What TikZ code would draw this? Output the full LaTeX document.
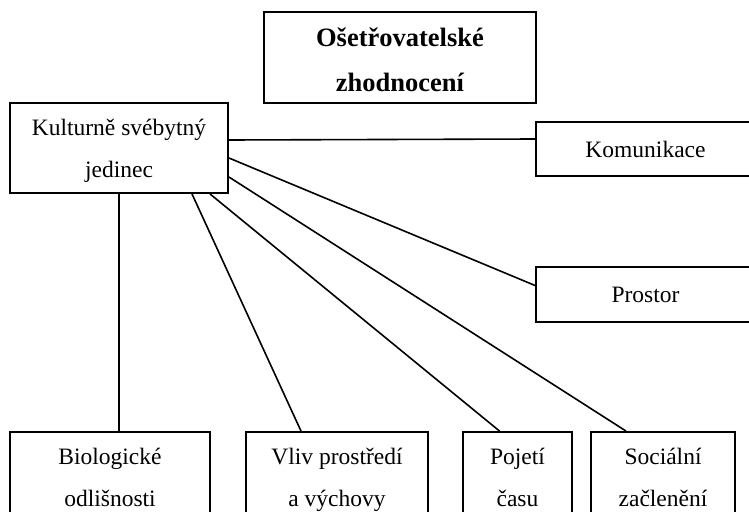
\documentclass[tikz,border=0pt]{standalone}
\usepackage{fontspec}
\setmainfont{Liberation Serif}
\usetikzlibrary{positioning}

\tikzset{
  ramec/.style={draw, rectangle, line width=1.9pt, align=center, inner sep=0pt,
    font=\fontsize{23.5}{42}\selectfont},
  nadpis/.style={ramec, font=\fontsize{26.5}{45}\selectfont\bfseries},
  spoj/.style={line width=1.6pt}
}

\begin{document}
\begin{tikzpicture}[x=1pt, y=-1pt]
		%%%%% START %%%%%
		\useasboundingbox (0,0) rectangle (749,511);
		\clip (0,0) rectangle (749,511);
		
		\node[nadpis, minimum width=272pt, minimum height=91pt] (osetr) at (400,57.5) {\rule{0pt}{33pt}Ošetřovatelské\\zhodnocení\rule[-9pt]{0pt}{9pt}};
		
		\node[ramec, minimum width=218pt, minimum height=90pt] (kult) at (119,148) {\strut Kulturně svébytný\\jedinec\strut};
		
		\node[ramec, minimum width=219pt, minimum height=54pt] (komu) at (645.5,149) {Komunikace};
		\node[ramec, minimum width=219pt, minimum height=55pt] (pros) at (645.5,294.5) {Prostor};
		
		\node[ramec, minimum width=200pt, minimum height=90pt] (bio) at (110,477) {\strut Biologické\\odlišnosti\strut};
		\node[ramec, minimum width=182pt, minimum height=90pt] (vliv) at (337,477) {\strut Vliv prostředí\\a výchovy\strut};
		\node[ramec, minimum width=109pt, minimum height=90pt] (poj) at (517.5,477) {\strut Pojetí\\času\strut};
		\node[ramec, minimum width=144pt, minimum height=90pt] (soc) at (663,477) {\strut Sociální\\začlenění\strut};
		
		\draw[spoj] ([yshift=8pt]kult.east) -- ([yshift=10pt]komu.west);
		\draw[spoj] ([yshift=-10pt]kult.east) -- ([yshift=9pt]pros.west);
		\draw[spoj] ([yshift=-29pt]kult.east) -- ([xshift=-37pt]soc.north);
		\draw[spoj] ([xshift=91pt]kult.south) -- ([xshift=-18pt]poj.north);
		\draw[spoj] ([xshift=73pt]kult.south) -- ([xshift=-36pt]vliv.north);
		\draw[spoj] (kult.south) -- (kult.south |- bio.north);
		%%%%% END %%%%%
	\end{tikzpicture}
\end{document}
